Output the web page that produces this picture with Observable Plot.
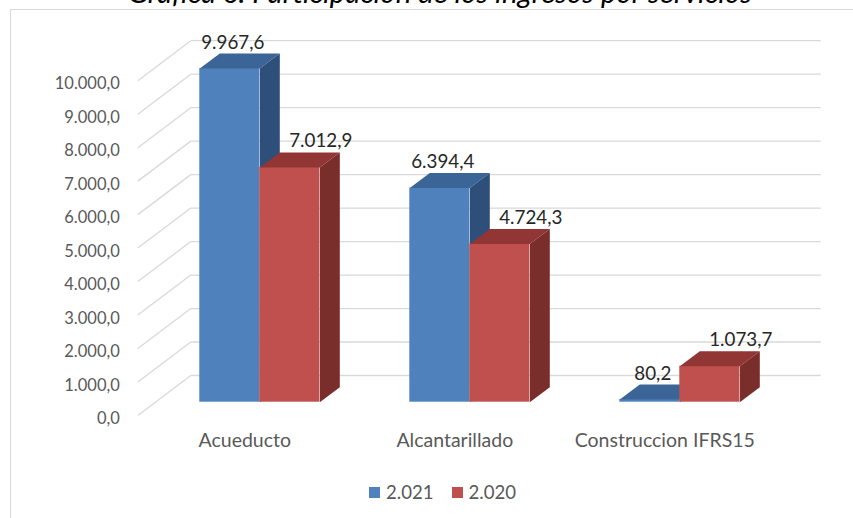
<!DOCTYPE html>
<html>
<head>
<meta charset="utf-8">
<script src="https://cdn.jsdelivr.net/npm/d3@7"></script>
<script src="https://cdn.jsdelivr.net/npm/@observablehq/plot@0.6"></script>
<style>
  html, body { margin: 0; padding: 0; background: #fff; }
  #wrap { position: relative; width: 853px; height: 518px; overflow: hidden; font-family: Lato, "Open Sans", sans-serif; }
  #frame { position: absolute; left: 10px; top: 9px; width: 900px; height: 600px; border-left: 1px solid #d9d9d9; border-top: 1px solid #d9d9d9; }
  #title { position: absolute; left: 0; top: 0; }
  #chart { position: absolute; left: 0; top: 0; }
  #legend { position: absolute; top: 481px; left: 369px; display: flex; align-items: center; font-size: 18.6px; color: #595959; }
  #legend .sw { width: 11px; height: 11px; display: inline-block; margin-right: 6px; }
  #legend .it { display: flex; align-items: center; margin-right: 18px; }
</style>
</head>
<body>
<div id="wrap">
  <div id="frame"></div>
  <svg id="title" width="853" height="30"><text x="128" y="2.5" textLength="624" lengthAdjust="spacingAndGlyphs" font-family="Lato, 'Open Sans', sans-serif" font-style="italic" font-size="28" fill="#000">Gráfica 6. Participación de los ingresos por servicios</text></svg>
  <div id="chart"></div>
  <div id="legend"></div>
</div>
<script>
const categories = ["Acueducto", "Alcantarillado", "Construccion IFRS15"];
const seriesNames = ["2.021", "2.020"];
const values2021 = [9967.6, 6394.4, 80.2];
const values2020 = [7012.9, 4724.3, 1073.7];
const yTicks = [0, 1000, 2000, 3000, 4000, 5000, 6000, 7000, 8000, 9000, 10000];

const frontColors = ["#4f81bd", "#c0504d"];
const topColors = ["#3c6597", "#913634"];
const sideColors = ["#2f4f7b", "#7a2e2c"];

const locale = d3.formatLocale({decimal: ",", thousands: ".", grouping: [3], currency: ["", ""]});
const fmt = locale.format(",.1f");

// geometry (pixels of the bar front plane)
const xRange = [154.3, 784.3];
const yRange = [401.7, 66.9];
const pxPerX = (xRange[1] - xRange[0]) / categories.length;
const pxPerY = (yRange[0] - yRange[1]) / 10000;
const X = p => p / pxPerX;      // pixel -> x data units
const Y = p => p / pxPerY;      // pixel -> y data units
const gap = X(45), barW = X(60);
const DX = X(20), DY = Y(15);   // bar depth
const wallDX = X(36), wallDY = Y(26.7);
const frontDX = X(-17), frontDY = Y(-13.3);

const bars = [];
[values2021, values2020].forEach((vals, s) => {
  vals.forEach((v, i) => {
    const x1 = i + gap + s * barW;
    bars.push({s, i, v, x1, x2: x1 + barW});
  });
});

function topFaces(s) {
  const rows = [];
  bars.filter(b => b.s === s).forEach((b, k) => {
    const id = "t" + k;
    rows.push({id, x: b.x1, y: b.v}, {id, x: b.x2, y: b.v}, {id, x: b.x2 + DX, y: b.v + DY}, {id, x: b.x1 + DX, y: b.v + DY});
  });
  return rows;
}
function sideFaces(s) {
  const rows = [];
  bars.filter(b => b.s === s).forEach((b, k) => {
    const id = "s" + k;
    rows.push({id, x: b.x2, y: 0}, {id, x: b.x2, y: b.v}, {id, x: b.x2 + DX, y: b.v + DY}, {id, x: b.x2 + DX, y: DY});
  });
  return rows;
}

const marks = [
  Plot.link(yTicks, {x1: frontDX, y1: d => d + frontDY, x2: wallDX, y2: d => d + wallDY, stroke: "#d9d9d9", strokeWidth: 1.3}),
  Plot.link(yTicks, {x1: wallDX, y1: d => d + wallDY, x2: categories.length + wallDX, y2: d => d + wallDY, stroke: "#d9d9d9", strokeWidth: 1.3}),
  Plot.text(yTicks, {x: 0, y: d => d, text: d => fmt(d), textAnchor: "end", dx: -35, dy: 16.5, fontSize: 16.5, fill: "#595959"}),
  Plot.text(categories, {x: (d, i) => i + 0.5, y: 0, text: d => d, dx: -15, dy: 38.5, fontSize: 19.5, fill: "#595959"})
];
[0, 1].forEach(s => {
  marks.push(
    Plot.rect(bars.filter(b => b.s === s), {x1: "x1", x2: "x2", y1: 0, y2: "v", fill: frontColors[s]}),
    Plot.line(topFaces(s), {x: "x", y: "y", z: "id", fill: topColors[s], stroke: "none"}),
    Plot.line(sideFaces(s), {x: "x", y: "y", z: "id", fill: sideColors[s], stroke: "none"})
  );
});
marks.push(
  Plot.text(bars.filter(b => b.s === 0), {x: b => (b.x1 + b.x2) / 2, y: "v", text: b => fmt(b.v), dx: 3, dy: -26, fontSize: 18.8, fill: "#262626"}),
  Plot.text(bars.filter(b => b.s === 1), {x: b => (b.x1 + b.x2) / 2, y: "v", text: b => fmt(b.v), dx: 31, dy: -26, fontSize: 18.8, fill: "#262626"})
);

const chart = Plot.plot({
  width: 853,
  height: 518,
  x: {domain: [0, categories.length], range: xRange, axis: null},
  y: {domain: [0, 10000], range: yRange, axis: null},
  style: {fontFamily: "Lato, 'Open Sans', sans-serif", background: "transparent", overflow: "visible"},
  marks
});
document.getElementById("chart").appendChild(chart);

const legend = document.getElementById("legend");
seriesNames.forEach((n, s) => {
  const it = document.createElement("span");
  it.className = "it";
  const sw = document.createElement("span");
  sw.className = "sw";
  sw.style.background = frontColors[s];
  it.appendChild(sw);
  it.appendChild(document.createTextNode(n));
  legend.appendChild(it);
});
</script>
</body>
</html>
